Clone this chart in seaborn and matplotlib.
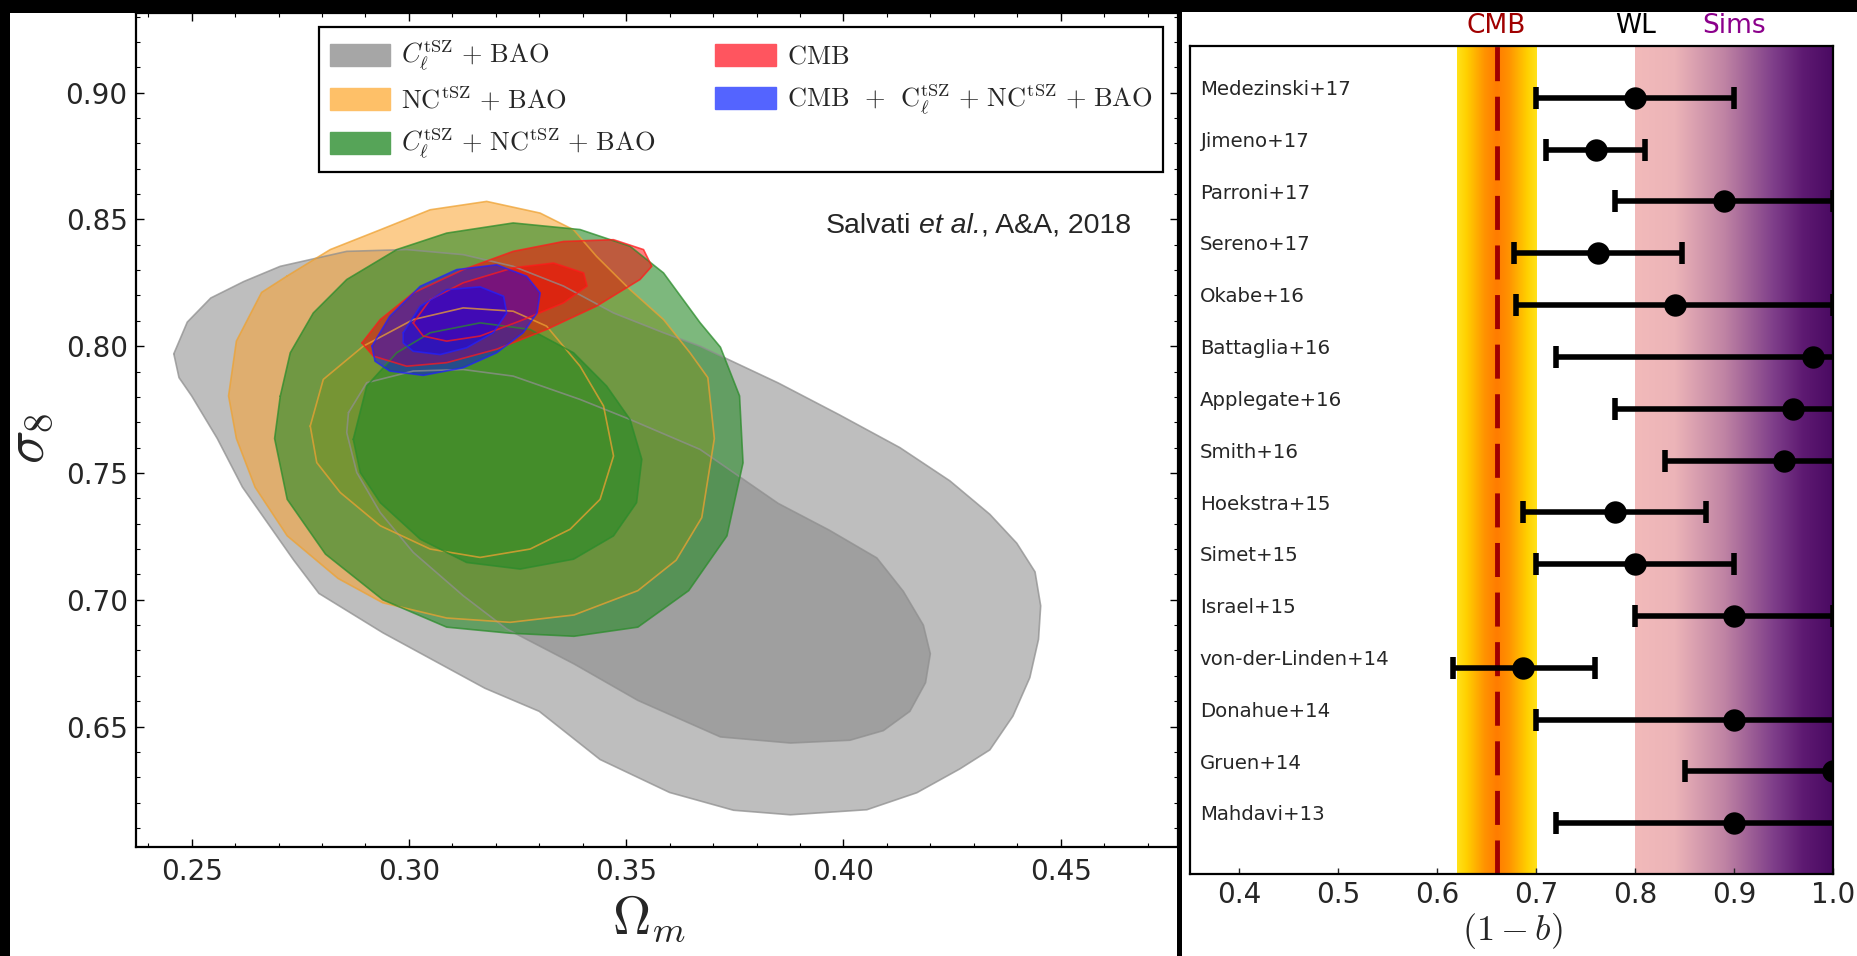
import numpy as np
import pandas as pd
import seaborn as sns
import matplotlib
matplotlib.use("Agg")
import matplotlib.pyplot as plt
from matplotlib.patches import Patch, Rectangle
from matplotlib.colors import LinearSegmentedColormap
from matplotlib.ticker import MultipleLocator, FormatStrFormatter
import matplotlib.transforms as mtransforms

# ---------------- data: left panel (Omega_m, sigma_8) contour outlines ----------------
gray_outer = [(0.2459, 0.7970), (0.2490, 0.8095), (0.2544, 0.8190), (0.2620, 0.8255), (0.2704, 0.8315),
              (0.2857, 0.8374), (0.2995, 0.8381), (0.3125, 0.8361), (0.3240, 0.8315), (0.3356, 0.8237),
              (0.3471, 0.8131), (0.3586, 0.8053), (0.3670, 0.8000), (0.3850, 0.7855), (0.3990, 0.7730),
              (0.4130, 0.7600), (0.4245, 0.7469), (0.4337, 0.7337), (0.4399, 0.7223), (0.4441, 0.7110),
              (0.4454, 0.6976), (0.4449, 0.6844), (0.4429, 0.6693), (0.4390, 0.6541), (0.4337, 0.6408),
              (0.4268, 0.6333), (0.4169, 0.6239), (0.4054, 0.6172), (0.3878, 0.6152), (0.3747, 0.6170),
              (0.3600, 0.6240), (0.3440, 0.6370), (0.3300, 0.6560), (0.3175, 0.6651), (0.2940, 0.6870),
              (0.2793, 0.7025), (0.2735, 0.7156), (0.2676, 0.7300), (0.2617, 0.7444), (0.2559, 0.7636),
              (0.2500, 0.7804), (0.2471, 0.7876)]
gray_inner = [(0.2861, 0.7738), (0.2903, 0.7856), (0.3010, 0.7902), (0.3125, 0.7908), (0.3240, 0.7882),
              (0.3394, 0.7790), (0.3509, 0.7711), (0.3670, 0.7593), (0.3850, 0.7380), (0.3967, 0.7275),
              (0.4077, 0.7165), (0.4138, 0.7033), (0.4184, 0.6900), (0.4200, 0.6787), (0.4189, 0.6673),
              (0.4153, 0.6560), (0.4092, 0.6484), (0.4015, 0.6446), (0.3878, 0.6435), (0.3717, 0.6459),
              (0.3527, 0.6603), (0.3380, 0.6747), (0.3225, 0.6885), (0.3125, 0.7016), (0.3010, 0.7187),
              (0.2934, 0.7344), (0.2880, 0.7502), (0.2857, 0.7659)]
orange_outer = [(0.2719, 0.8276), (0.2819, 0.8381), (0.2934, 0.8459), (0.3049, 0.8538), (0.3179, 0.8571),
                (0.3302, 0.8525), (0.3379, 0.8459), (0.3432, 0.8354), (0.3509, 0.8223), (0.3586, 0.8105),
                (0.3647, 0.7974), (0.3688, 0.7876), (0.3703, 0.7636), (0.3674, 0.7324), (0.3615, 0.7156),
                (0.3527, 0.7036), (0.3380, 0.6940), (0.3233, 0.6911), (0.3087, 0.6928), (0.2940, 0.6988),
                (0.2837, 0.7084), (0.2720, 0.7252), (0.2646, 0.7444), (0.2603, 0.7636), (0.2585, 0.7804),
                (0.2603, 0.8020), (0.2661, 0.8212)]
orange_inner = [(0.2773, 0.7685), (0.2803, 0.7869), (0.2895, 0.8000), (0.3010, 0.8105), (0.3125, 0.8151),
                (0.3240, 0.8138), (0.3317, 0.8079), (0.3394, 0.7921), (0.3448, 0.7764), (0.3471, 0.7567),
                (0.3440, 0.7396), (0.3371, 0.7278), (0.3279, 0.7200), (0.3164, 0.7167), (0.3049, 0.7200),
                (0.2934, 0.7292), (0.2842, 0.7423), (0.2788, 0.7541)]
green_outer = [(0.2704, 0.7803), (0.2727, 0.7974), (0.2780, 0.8131), (0.2857, 0.8263), (0.2972, 0.8381),
               (0.3087, 0.8446), (0.3240, 0.8486), (0.3394, 0.8460), (0.3509, 0.8394), (0.3586, 0.8289),
               (0.3670, 0.8093), (0.3717, 0.7996), (0.3761, 0.7804), (0.3769, 0.7540), (0.3732, 0.7252),
               (0.3644, 0.7036), (0.3527, 0.6892), (0.3380, 0.6856), (0.3233, 0.6868), (0.3087, 0.6892),
               (0.2940, 0.7000), (0.2808, 0.7180), (0.2720, 0.7396), (0.2691, 0.7636)]
green_inner = [(0.2872, 0.7633), (0.2903, 0.7843), (0.2972, 0.7974), (0.3049, 0.8053), (0.3164, 0.8092),
               (0.3279, 0.8066), (0.3379, 0.7974), (0.3455, 0.7843), (0.3509, 0.7711), (0.3536, 0.7554),
               (0.3524, 0.7383), (0.3471, 0.7252), (0.3379, 0.7160), (0.3256, 0.7121), (0.3133, 0.7147),
               (0.3026, 0.7239), (0.2934, 0.7383), (0.2888, 0.7502)]
red_outer = [(0.2892, 0.8013), (0.2934, 0.8105), (0.3010, 0.8210), (0.3125, 0.8302), (0.3240, 0.8374),
             (0.3356, 0.8413), (0.3471, 0.8420), (0.3540, 0.8381), (0.3559, 0.8315), (0.3532, 0.8263),
             (0.3432, 0.8158), (0.3317, 0.8066), (0.3202, 0.7988), (0.3087, 0.7935), (0.2995, 0.7921),
             (0.2918, 0.7961)]
red_inner = [(0.3010, 0.8092), (0.3049, 0.8184), (0.3125, 0.8250), (0.3240, 0.8309), (0.3333, 0.8328),
             (0.3402, 0.8289), (0.3410, 0.8237), (0.3356, 0.8171), (0.3264, 0.8105), (0.3164, 0.8040),
             (0.3087, 0.8020), (0.3033, 0.8040)]
blue_outer = [(0.2915, 0.8000), (0.2956, 0.8118), (0.3026, 0.8236), (0.3110, 0.8302), (0.3202, 0.8321),
              (0.3271, 0.8276), (0.3302, 0.8210), (0.3295, 0.8131), (0.3263, 0.8053), (0.3202, 0.7974),
              (0.3125, 0.7915), (0.3033, 0.7885), (0.2956, 0.7902), (0.2922, 0.7941)]
blue_inner = [(0.2987, 0.8053), (0.3026, 0.8157), (0.3087, 0.8223), (0.3164, 0.8234), (0.3218, 0.8197),
              (0.3225, 0.8131), (0.3194, 0.8053), (0.3133, 0.7994), (0.3072, 0.7967), (0.3010, 0.7980),
              (0.2987, 0.8013)]

legend_labels = [r'$C_\ell^{\rm tSZ}\ {+}\ {\rm BAO}$',
                 r'${\rm NC}^{\rm tSZ}\ {+}\ {\rm BAO}$',
                 r'$C_\ell^{\rm tSZ}\ {+}\ {\rm NC}^{\rm tSZ}\ {+}\ {\rm BAO}$',
                 r'${\rm CMB}$',
                 r'${\rm CMB}\ \ {+}\ \ {\rm C}_\ell^{\rm tSZ}\ {+}\ {\rm NC}^{\rm tSZ}\ {+}\ {\rm BAO}$']
legend_colors = ['#a6a6a6', '#fec068', '#56a458', '#ff555f', '#5464ff']
credit_parts = ['Salvati', 'et al.', ', A&A, 2018']

left_xticks = [0.25, 0.30, 0.35, 0.40, 0.45]
left_yticks = [0.65, 0.70, 0.75, 0.80, 0.85, 0.90]

# ---------------- data: right panel (1-b) ----------------
studies = ['Medezinski+17', 'Jimeno+17', 'Parroni+17', 'Sereno+17', 'Okabe+16', 'Battaglia+16',
           'Applegate+16', 'Smith+16', 'Hoekstra+15', 'Simet+15', 'Israel+15', 'von-der-Linden+14',
           'Donahue+14', 'Gruen+14', 'Mahdavi+13']
b_val = [0.80, 0.76, 0.89, 0.762, 0.84, 0.98, 0.96, 0.95, 0.78, 0.80, 0.90, 0.687, 0.90, 1.00, 0.90]
b_lo = [0.70, 0.71, 0.78, 0.678, 0.68, 0.72, 0.78, 0.83, 0.687, 0.70, 0.80, 0.616, 0.70, 0.85, 0.72]
b_hi = [0.90, 0.81, 1.00, 0.847, 1.00, 1.20, 1.14, 1.07, 0.872, 0.90, 1.00, 0.759, 1.10, 1.15, 1.08]
cmb_band = [0.62, 0.70]
cmb_value = 0.66
sims_band = [0.80, 1.00]
header_labels = ['CMB', 'WL', 'Sims']
header_x = [0.66, 0.80, 0.90]
header_colors = ['#a00000', 'black', '#8b008b']
right_xticks = [0.4, 0.5, 0.6, 0.7, 0.8, 0.9, 1.0]

# ---------------- styling ----------------
sns.set_style('ticks')
plt.rcParams['font.family'] = ['DejaVu Sans']
plt.rcParams['mathtext.fontset'] = 'cm'

W, H = 1858, 956
fig = plt.figure(figsize=(W / 100, H / 100), dpi=100, facecolor='black')


def frect(x0, y0, x1, y1):
    return [x0 / W, 1 - y1 / H, (x1 - x0) / W, (y1 - y0) / H]


# white image backgrounds on black
fig.add_artist(Rectangle((10 / W, 0), (1177 - 10) / W, (H - 13) / H, transform=fig.transFigure,
                         facecolor='white', edgecolor='none', zorder=-5))
fig.add_artist(Rectangle((1182 / W, 0), (W - 1182) / W, (H - 12) / H, transform=fig.transFigure,
                         facecolor='white', edgecolor='none', zorder=-5))

ax1 = fig.add_axes(frect(136, 13, 1178, 847))
ax2 = fig.add_axes(frect(1190, 46, 1833, 874))

# ---------------- left panel ----------------
sets = [
    (gray_outer, gray_inner, '#838383', 0.52, '#8f8f8f'),
    (orange_outer, orange_inner, '#fba22e', 0.55, '#eea232'),
    (green_outer, green_inner, '#268a26', 0.60, '#2b8c2b'),
    (red_outer, red_inner, '#ff0000', 0.50, '#ff1a1a'),
    (blue_outer, blue_inner, '#0000ff', 0.45, '#2020ff'),
]
for outer, inner, col, a, ec in sets:
    for poly in (outer, inner):
        xs, ys = zip(*poly)
        ax1.fill(xs, ys, facecolor=col, alpha=a, edgecolor='none', zorder=2)
for outer, inner, col, a, ec in sets:
    for poly in (outer, inner):
        xs, ys = zip(*(list(poly) + [poly[0]]))
        ax1.plot(xs, ys, color=ec, lw=1.2, alpha=0.75, zorder=3, solid_joinstyle='round')

ax1.set_xlim(0.2372, 0.477)
ax1.set_ylim(0.6025, 0.9314)
ax1.set_xticks(left_xticks)
ax1.set_yticks(left_yticks)
ax1.xaxis.set_major_formatter(FormatStrFormatter('%.2f'))
ax1.yaxis.set_major_formatter(FormatStrFormatter('%.2f'))
ax1.xaxis.set_minor_locator(MultipleLocator(0.01))
ax1.yaxis.set_minor_locator(MultipleLocator(0.01))
ax1.tick_params(which='major', direction='in', top=True, right=True, length=6, width=1.0,
                labelsize=20, color='black')
ax1.tick_params(axis='x', which='major', pad=8)
ax1.tick_params(axis='y', which='major', pad=6)
ax1.tick_params(which='minor', direction='in', top=True, right=True, length=3, width=0.8, color='black')
for s in ax1.spines.values():
    s.set_linewidth(1.6)
    s.set_color('black')
ax1.set_facecolor('white')
ax1.set_xlabel(r'$\Omega_m$', fontsize=38)
ax1.xaxis.set_label_coords(0.492, -0.055)
ax1.set_ylabel(r'$\sigma_8$', fontsize=40)
ax1.yaxis.set_label_coords(-0.077, 0.49)

handles = [Patch(facecolor=c, edgecolor=c) for c in legend_colors]
leg = ax1.legend(handles, legend_labels, ncol=2, loc='upper left', bbox_to_anchor=(0.1756, 0.983),
                 borderaxespad=0, fontsize=19, handlelength=2.3, handleheight=0.91,
                 handletextpad=0.42, columnspacing=2.25, labelspacing=0.45, borderpad=0.4,
                 frameon=True, fancybox=False, framealpha=1, edgecolor='black')
leg.get_frame().set_linewidth(1.6)
leg.set_zorder(10)

credit_font = dict(fontsize=20.5, family='Liberation Sans', zorder=6)
t1 = ax1.text(0.396, 0.8475, credit_parts[0], ha='left', va='center', **credit_font)
t2 = ax1.annotate(credit_parts[1], xy=(1, 0), xycoords=t1, xytext=(5.7, 0), textcoords='offset points',
                  ha='left', va='bottom', style='italic', **credit_font)
t3 = ax1.annotate(credit_parts[2], xy=(1, 0), xycoords=t2, ha='left', va='bottom', **credit_font)

# ---------------- right panel ----------------
cmb_cmap = LinearSegmentedColormap.from_list('cmbband', [
    (0.0, '#ffe21a'), (0.12, '#ffd000'), (0.35, '#ff9200'), (0.5, '#ff7c00'),
    (0.65, '#ff9200'), (0.88, '#ffd000'), (1.0, '#ffe21a')])
sims_cmap = LinearSegmentedColormap.from_list('simsband', [
    (0.0, '#f2baba'), (0.2, '#ecb4b8'), (0.45, '#c084a4'), (0.7, '#7f3f8a'),
    (0.85, '#5e1a72'), (1.0, '#4a0a62')])
grad = np.linspace(0, 1, 512)[None, :]
ax2.imshow(grad, extent=(cmb_band[0], cmb_band[1], 15, -1), aspect='auto', cmap=cmb_cmap,
           zorder=0.5, interpolation='bilinear')
ax2.imshow(grad, extent=(sims_band[0], sims_band[1], 15, -1), aspect='auto', cmap=sims_cmap,
           zorder=0.5, interpolation='bilinear')
ax2.axvline(cmb_value, color='#a00000', lw=3.5, ls=(0, (7, 3.2)), zorder=1)

rows = np.arange(len(studies))
df = pd.DataFrame({'study': studies, 'val': b_val, 'lo': b_lo, 'hi': b_hi, 'row': rows})
ax2.errorbar(df['val'], df['row'], xerr=[df['val'] - df['lo'], df['hi'] - df['val']], fmt='none',
             ecolor='black', elinewidth=4, capsize=8, capthick=4, zorder=3)
sns.scatterplot(data=df, x='val', y='row', ax=ax2, color='black', s=260, edgecolor='black',
                linewidth=0, zorder=4, legend=False)
for i, name in enumerate(studies):
    ax2.text(0.36, i - 0.16, name, fontsize=14.2, ha='left', va='center', zorder=5)

trans = mtransforms.blended_transform_factory(ax2.transData, ax2.transAxes)
for lab, xx, cc in zip(header_labels, header_x, header_colors):
    ax2.text(xx, 1.0246, lab, color=cc, fontsize=19, ha='center', va='center', transform=trans,
             clip_on=False)

ax2.set_xlim(0.35, 1.0)
ax2.set_ylim(14.98, -1.0)
ax2.set_xticks(right_xticks)
ax2.xaxis.set_major_formatter(FormatStrFormatter('%.1f'))
ax2.set_yticks([])
ax2.tick_params(axis='x', direction='in', length=4, width=1.0, labelsize=20, pad=5, top=False)
for s in ax2.spines.values():
    s.set_linewidth(1.6)
    s.set_color('black')
ax2.set_facecolor('white')
ax2.set_xlabel(r'$(1-b)$', fontsize=26)
ax2.xaxis.set_label_coords(0.502, -0.045)
ax2.set_ylabel('')

fig.savefig('out.png', dpi=100, facecolor='black')
